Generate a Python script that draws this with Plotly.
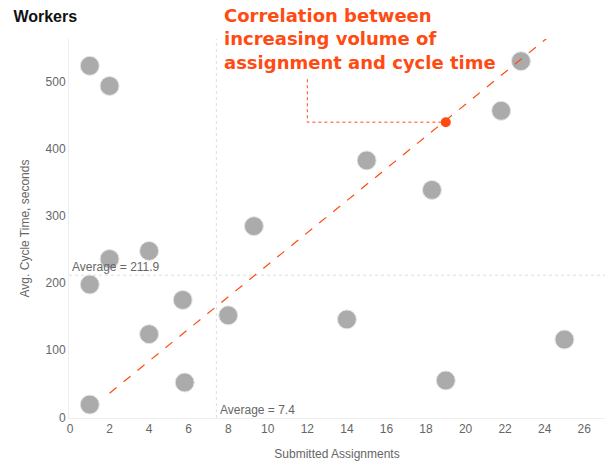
import plotly.graph_objects as go

# worker data
assignments = [1, 2, 2, 4, 1, 5.7, 4, 8, 5.8, 1, 9.3, 14, 19, 25, 15, 18.3, 21.8, 22.8]
cycle_time = [524, 494, 236, 248, 198, 175, 124, 152, 52, 19, 285, 146, 55, 116, 383, 339, 457, 531]

avg_assignments = 7.4
avg_cycle_time = 211.9

trend_x = [2, 24.4]
trend_y = [36, 572]

highlight_x = [19]
highlight_y = [440]

callout_x = [12, 12, 19]
callout_y = [504, 440, 440]

x_ticks = [0, 2, 4, 6, 8, 10, 12, 14, 16, 18, 20, 22, 24, 26]
y_ticks = [0, 100, 200, 300, 400, 500]

orange = '#FF4A12'
gray_text = '#666666'
font_main = 'Liberation Sans, Arial'

fig = go.Figure()

fig.add_trace(go.Scatter(
    x=assignments, y=cycle_time,
    mode='markers',
    marker=dict(size=19, color='#ABABAB', line=dict(color='#E6E6E6', width=1)),
    showlegend=False, hoverinfo='skip'
))

# trend line
fig.add_trace(go.Scatter(
    x=trend_x, y=trend_y,
    mode='lines',
    line=dict(color=orange, width=1.2, dash='dash'),
    showlegend=False, hoverinfo='skip'
))

# callout connector
fig.add_trace(go.Scatter(
    x=callout_x, y=callout_y,
    mode='lines',
    line=dict(color=orange, width=1, dash='dot'),
    showlegend=False, hoverinfo='skip'
))

fig.add_trace(go.Scatter(
    x=highlight_x, y=highlight_y,
    mode='markers',
    marker=dict(size=10, color=orange),
    showlegend=False, hoverinfo='skip'
))

# average lines
fig.add_shape(type='line', xref='x', yref='paper', x0=avg_assignments, x1=avg_assignments,
              y0=0, y1=1, line=dict(color='#DDDDDD', width=1, dash='dot'), layer='below')
fig.add_shape(type='line', xref='paper', yref='y', x0=0, x1=1,
              y0=avg_cycle_time, y1=avg_cycle_time,
              line=dict(color='#DDDDDD', width=1, dash='dot'), layer='below')

fig.add_annotation(x=0, xref='paper', y=avg_cycle_time, yref='y',
                   text=f'Average = {avg_cycle_time}', showarrow=False,
                   xanchor='left', yanchor='bottom', xshift=1, yshift=-1,
                   font=dict(family=font_main, size=12, color=gray_text))
fig.add_annotation(x=avg_assignments, xref='x', y=0, yref='y',
                   text=f'Average = {avg_assignments}', showarrow=False,
                   xanchor='left', yanchor='middle', xshift=2, yshift=7,
                   font=dict(family=font_main, size=12, color=gray_text))

fig.add_annotation(x=0.285, xref='paper', y=1.095, yref='paper',
                   text='Correlation between<br>increasing volume of<br>assignment and cycle time',
                   showarrow=False, xanchor='left', yanchor='top', align='left',
                   font=dict(family='DejaVu Sans', size=18, color=orange, weight='bold'))

fig.update_layout(
    width=610, height=472,
    margin=dict(l=69, r=5, t=39, b=54),
    title=dict(text='<b>Workers</b>', xref='container', x=0.022, y=0.966,
               xanchor='left', yanchor='middle',
               font=dict(family=font_main, size=16, color='#111111')),
    xaxis=dict(range=[-0.05, 27.05], tickvals=x_ticks, showgrid=False, zeroline=False,
               showline=True, linecolor='#EEEEEE', ticks='', automargin=False,
               tickfont=dict(family=font_main, size=12, color=gray_text),
               title=dict(text='Submitted Assignments', standoff=14,
                          font=dict(family=font_main, size=12, color=gray_text))),
    yaxis=dict(range=[-1, 564], tickvals=y_ticks, showgrid=False, zeroline=False,
               showline=True, linecolor='#EEEEEE', ticks='', automargin=False,
               tickfont=dict(family=font_main, size=12, color=gray_text),
               title=dict(text='Avg. Cycle Time, seconds', standoff=13,
                          font=dict(family=font_main, size=12, color=gray_text))),
    plot_bgcolor='white',
    paper_bgcolor='white'
)

fig.write_html('out.html', config={'displayModeBar': False},
               post_script="document.body.style.margin='0';")
